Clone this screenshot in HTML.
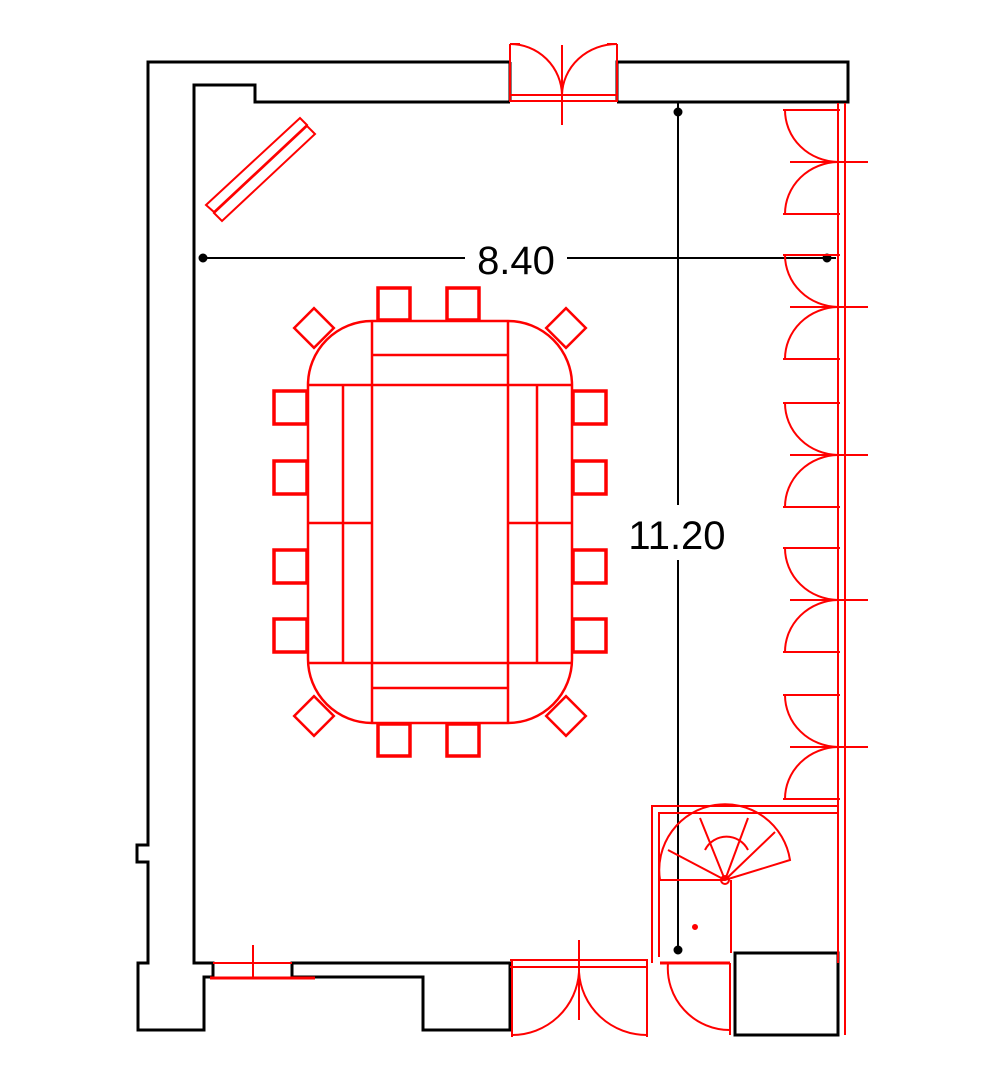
<!DOCTYPE html>
<html><head><meta charset="utf-8"><style>
html,body{margin:0;padding:0;background:#fff;}
svg{display:block;}
</style></head><body>
<svg width="1005" height="1080" viewBox="0 0 1005 1080" xmlns="http://www.w3.org/2000/svg">
<rect width="1005" height="1080" fill="#fff"/>
<!-- black walls -->
<g fill="none" stroke="#000" stroke-width="3" stroke-linejoin="miter">
<polyline points="510,62 148,62 148,845 137,845 137,862 148,862 148,963 138,963 138,1030 204,1030 204,977 213,977"/>
<polyline points="510,102 255,102 255,85 194,85 194,963 213,963 213,977"/>
<polyline points="617,102 848,102 848,62 617,62 617,102"/>
<line x1="510" y1="62" x2="510" y2="102"/>
<polyline points="292,977 292,963 510,963 510,1030 423,1030 423,977 292,977"/>
<rect x="735" y="953" width="103" height="82"/>
</g>
<!-- dimensions -->
<g stroke="#000" stroke-width="2" fill="#000">
<line x1="202" y1="258" x2="465" y2="258"/>
<line x1="567" y1="258" x2="836" y2="258"/>
<circle cx="203" cy="258" r="3.5"/>
<circle cx="827" cy="258" r="3.5"/>
<line x1="678" y1="103" x2="678" y2="505"/>
<line x1="678" y1="560" x2="678" y2="953"/>
<circle cx="678" cy="112" r="3.5"/>
<circle cx="678" cy="950" r="3.5"/>
</g>
<text x="516" y="274" font-family="Liberation Sans, sans-serif" font-size="40" text-anchor="middle" fill="#000">8.40</text>
<text x="677" y="549" font-family="Liberation Sans, sans-serif" font-size="40" text-anchor="middle" fill="#000">11.20</text>
<g fill="none" stroke="#f00" stroke-width="2">
<!-- top door -->
<line x1="510" y1="95" x2="617" y2="95"/><line x1="510" y1="101" x2="617" y2="101"/>
<line x1="510" y1="44" x2="510" y2="102"/><line x1="617" y1="44" x2="617" y2="102"/>
<line x1="562" y1="45" x2="562" y2="125"/>
<path d="M510,44 A52,52 0 0 1 562,95"/><path d="M617,44 A55,52 0 0 0 562,95"/>
<line x1="510" y1="44" x2="520" y2="44"/><line x1="607" y1="44" x2="617" y2="44"/>
<!-- mirror object -->
<polygon points="206,205 300,118 307,125 214,212"/>
<polygon points="214,213 307,126 315,134 222,221"/>
<!-- right wall double line -->
<line x1="838" y1="103" x2="838" y2="963"/><line x1="845" y1="103" x2="845" y2="1035"/>
<!-- stair room -->
<polyline points="838,806 652,806 652,963"/>
<polyline points="838,813 659,813 659,957"/>
<line x1="660" y1="963" x2="730" y2="963" stroke-width="3"/>
<line x1="730" y1="963" x2="730" y2="1035"/>
<path d="M668,963 A62,62 0 0 0 730,1030"/>
<!-- spiral stair -->
<path d="M660,880 A65,65 0 0 1 790,860 L725,880 Z"/>
<line x1="725" y1="880" x2="700" y2="818"/><line x1="725" y1="880" x2="748" y2="818"/>
<line x1="725" y1="880" x2="668" y2="850"/><line x1="725" y1="880" x2="775" y2="832"/>
<path d="M705,850 A24,24 0 0 1 748,850"/>
<line x1="731" y1="880" x2="731" y2="953"/>
<circle cx="725" cy="880" r="4"/>
<circle cx="695" cy="927" r="2" fill="#f00"/>
<!-- bottom door -->
<line x1="510" y1="960" x2="648" y2="960"/><line x1="510" y1="967" x2="648" y2="967"/>
<line x1="512" y1="960" x2="512" y2="1037"/><line x1="647" y1="960" x2="647" y2="1037"/>
<line x1="579" y1="940" x2="579" y2="1020"/>
<path d="M512,1035 A67,67 0 0 0 579,972"/><path d="M647,1035 A68,67 0 0 1 579,972"/>
<!-- bottom-left window -->
<line x1="213" y1="963" x2="292" y2="963"/>
<line x1="210" y1="978" x2="315" y2="978" stroke-width="3"/>
<line x1="253" y1="945" x2="253" y2="978"/>
</g>
<!-- right wall doors -->
<g fill="none" stroke="#f00" stroke-width="2">
<g id="d1">
<line x1="783" y1="110" x2="840" y2="110"/>
<path d="M785,110 A54,52 0 0 0 838,162"/>
<path d="M785,214 A54,52 0 0 1 838,162"/>
<line x1="783" y1="214" x2="840" y2="214"/>
<line x1="790" y1="162" x2="868" y2="162"/>
</g>
<use href="#d1" y="145"/>
<use href="#d1" y="293"/>
<use href="#d1" y="438"/>
<use href="#d1" y="585"/>
</g>
<!-- table -->
<g fill="none" stroke="#f00" stroke-width="2.5">
<rect x="308" y="321" width="264" height="402" rx="64"/>
<line x1="308" y1="385" x2="572" y2="385"/><line x1="308" y1="663" x2="572" y2="663"/>
<line x1="372" y1="321" x2="372" y2="723"/><line x1="508" y1="321" x2="508" y2="723"/>
<line x1="372" y1="355" x2="508" y2="355"/><line x1="372" y1="688" x2="508" y2="688"/>
<line x1="343" y1="385" x2="343" y2="663"/><line x1="537" y1="385" x2="537" y2="663"/>
<line x1="308" y1="523" x2="372" y2="523"/><line x1="508" y1="523" x2="572" y2="523"/>
<g stroke-width="3.5">
<rect x="378" y="288" width="32" height="32"/><rect x="447" y="288" width="32" height="32"/>
<rect x="378" y="724" width="32" height="32"/><rect x="447" y="724" width="32" height="32"/>
<rect x="274" y="391" width="33" height="33"/><rect x="274" y="461" width="33" height="33"/>
<rect x="274" y="550" width="33" height="33"/><rect x="274" y="619" width="33" height="33"/>
<rect x="573" y="391" width="33" height="33"/><rect x="573" y="461" width="33" height="33"/>
<rect x="573" y="550" width="33" height="33"/><rect x="573" y="619" width="33" height="33"/>
</g>
<rect x="300" y="314" width="28" height="28" transform="rotate(45 314 328)"/>
<rect x="552" y="314" width="28" height="28" transform="rotate(45 566 328)"/>
<rect x="300" y="702" width="28" height="28" transform="rotate(45 314 716)"/>
<rect x="552" y="702" width="28" height="28" transform="rotate(45 566 716)"/>
</g>
</svg>
</body></html>
